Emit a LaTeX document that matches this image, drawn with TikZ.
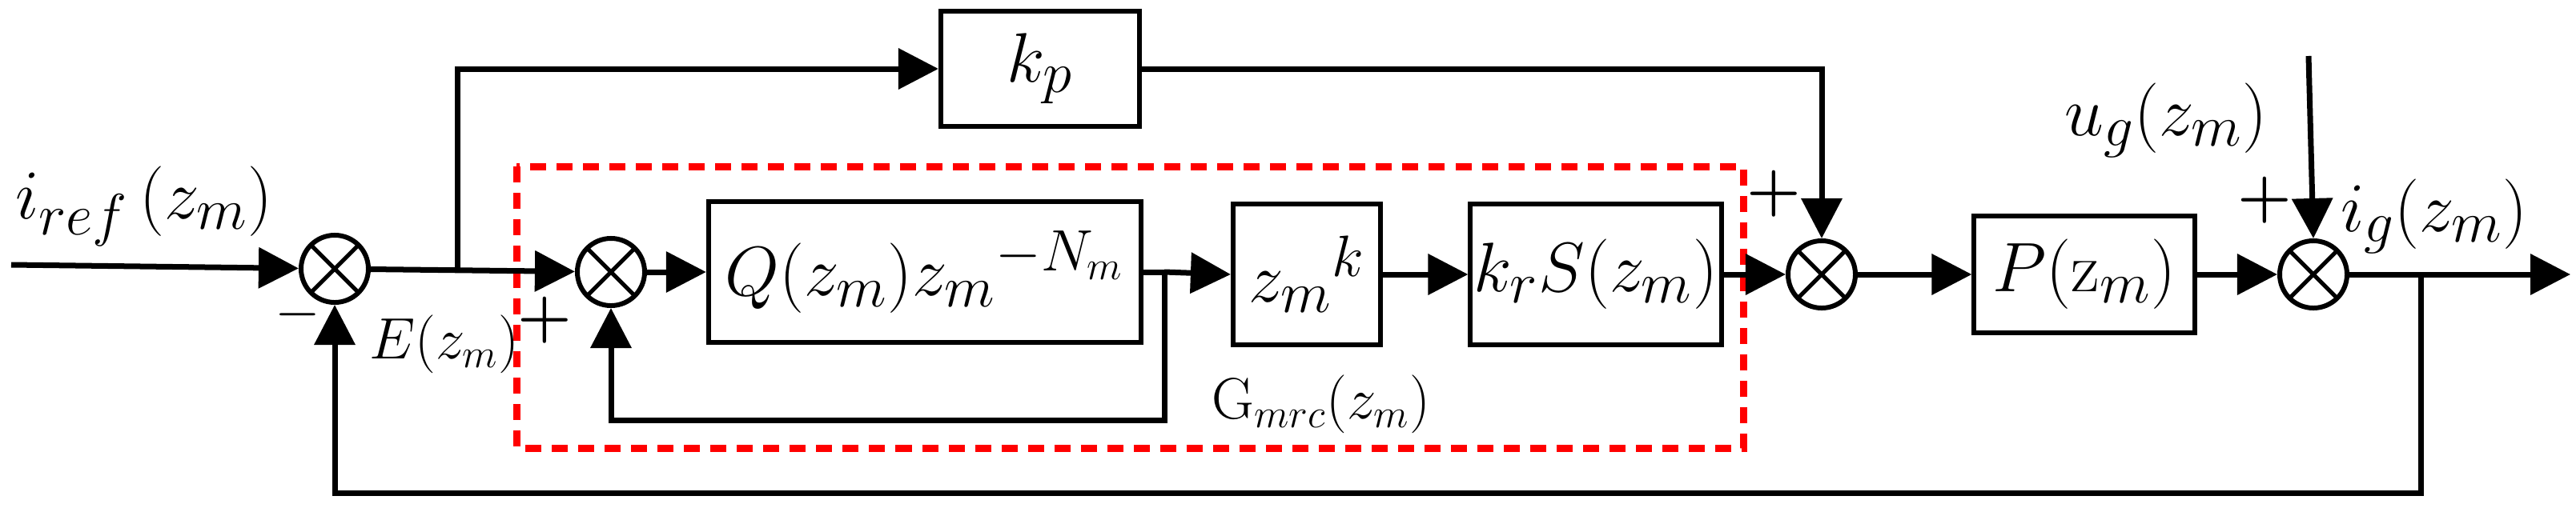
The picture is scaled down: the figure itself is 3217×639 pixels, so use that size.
\documentclass[tikz,border=0pt]{standalone}
\usetikzlibrary{arrows.meta}
\begin{document}
\begin{tikzpicture}[x=0.01cm,y=-0.01cm,
  ln/.style={line width=0.07cm},
  arr/.style={ln,-{Triangle[length=0.5cm,width=0.5cm]}},
  box/.style={draw,line width=0.06cm,inner sep=0pt,font=\fontsize{28}{32}\selectfont},
  sum/.style={draw,circle,line width=0.06cm,minimum size=0.84cm,inner sep=0pt,
    path picture={\draw[line width=0.05cm] (path picture bounding box.south west)--(path picture bounding box.north east)
      (path picture bounding box.north west)--(path picture bounding box.south east);}},
  lbl/.style={font=\fontsize{28}{32}\selectfont,inner sep=0pt},
  sml/.style={font=\fontsize{22}{26}\selectfont,inner sep=0pt},
  sgn/.style={font=\fontsize{22}{22}\selectfont\bfseries,inner sep=0pt}]
\useasboundingbox (0,0) rectangle (3217,639);
% red dashed box
\draw[red,line width=0.09cm,dash pattern=on 0.2cm off 0.13cm] (645,208) rectangle (2177,560);
% nodes
\node[box,minimum width=2.48cm,minimum height=1.44cm] (kp) at (1299,86) {$k_p$};
\node[box,minimum width=5.4cm,minimum height=1.75cm] (Q) at (1155,340) {$Q(z_m)z_m{}^{-N_m}$\hspace{0.5cm}};
\node[box,minimum width=1.84cm,minimum height=1.76cm] (zk) at (1632,343) {$z_m{}^{k}$};
\node[box,minimum width=3.13cm,minimum height=1.76cm] (kr) at (1993,343) {$k_rS(z_m)$};
\node[box,minimum width=2.75cm,minimum height=1.45cm] (P) at (2603,343) {$P(\mathrm{z}_m)$};
\node[sum] (s1) at (418,336) {};
\node[sum] (s2) at (763,340) {};
\node[sum] (s3) at (2275,343) {};
\node[sum] (s4) at (2889,343) {};
\coordinate (in) at (14,331);
\coordinate (b1) at (571,336);
\coordinate (b2) at (1454,340);
\coordinate (b3) at (3023,343);
\coordinate (out) at (3210,343);
\coordinate (ug) at (2883,70);
% connectors
\draw[arr] (in) -- (s1);
\draw[arr] (s1) -- (s2);
\draw[arr] (b1) |- (kp.west);
\draw[arr] (s2) -- (Q);
\draw[arr] (b2) -- (zk.west);
\draw[ln] (Q.east) -- (b2);
\draw[arr] (b2) -- (1454,525) -| (s2.south);
\draw[arr] (zk) -- (kr);
\draw[arr] (kr) -- (s3);
\draw[arr] (s3) -- (P);
\draw[arr] (P) -- (s4);
\draw[arr] (s4) -- (out);
\draw[arr] (kp.east) -| (s3.north);
\draw[arr] (ug) -- (s4.north);
\draw[arr] (b3) -- (3023,616) -| (s1.south);
% labels
\node[lbl] (t1) at (180,258) {$i_{ref}\,(z_m)$};
\node[sml] (t2) at (555,430) {$E(z_m)$};
\node[sml] (t3) at (1650,505) {$\mathrm{G}_{mrc}(z_m)$};
\node[lbl] (t4) at (2705,150) {$u_g(z_m)$};
\node[lbl] (t5) at (3040,270) {$i_g(z_m)$};
\node[sgn] (m1) at (372,393) {$-$};
\node[sgn] (p1) at (680,400) {+};
\node[sgn] (p2) at (2215,242) {+};
\node[sgn] (p3) at (2828,250) {+};
\end{tikzpicture}
\end{document}
